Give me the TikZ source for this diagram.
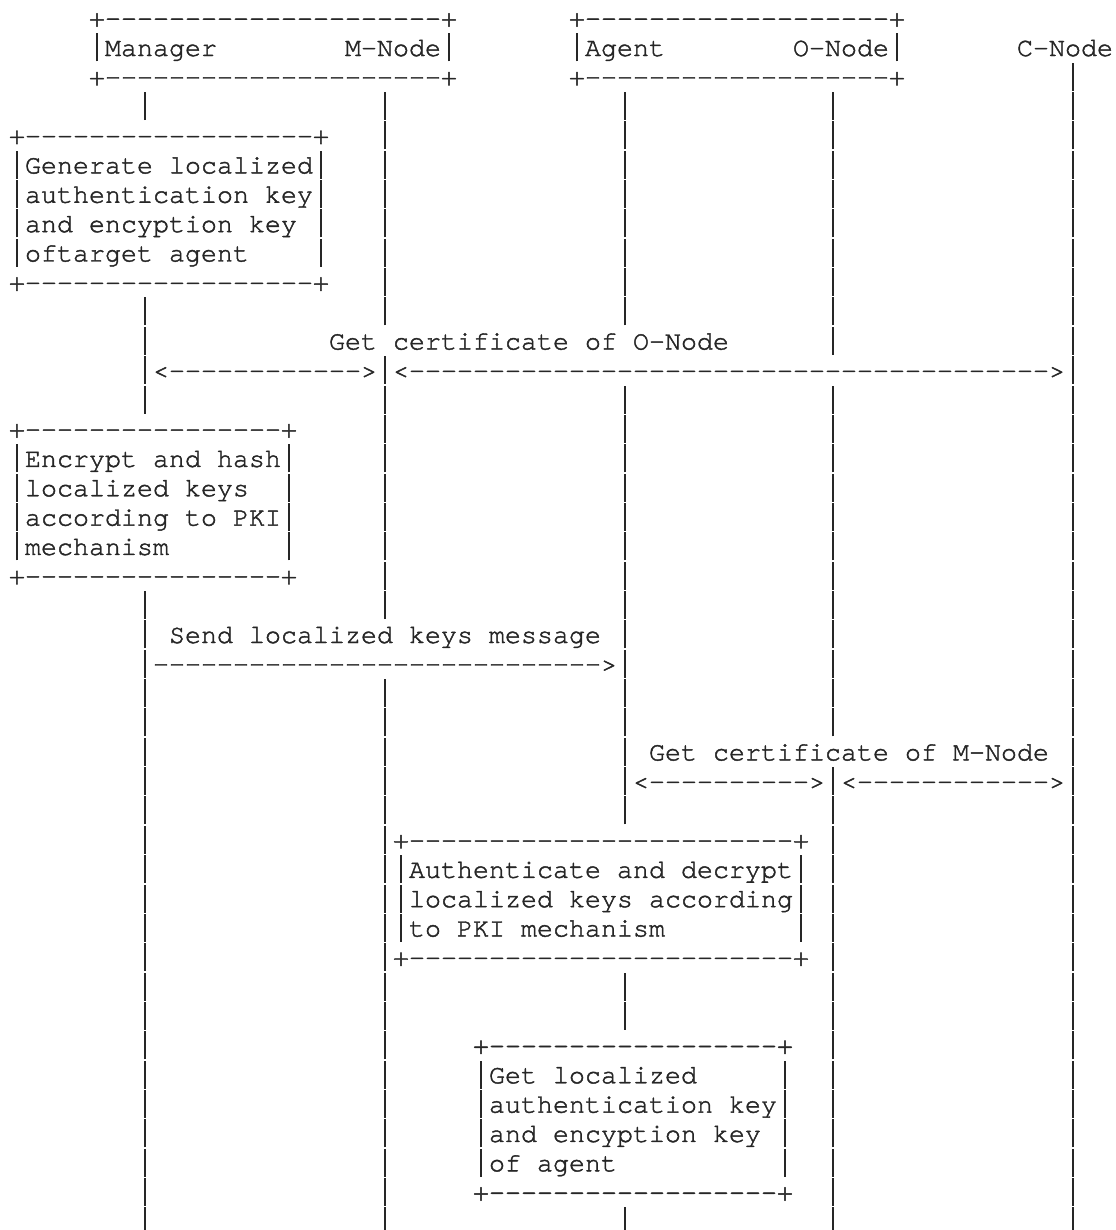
\documentclass[tikz,border=0pt]{standalone}
\usepackage{fontspec}
\setmonofont{TeX Gyre Cursor}[Ligatures={NoCommon}, FakeBold=1.6]
\definecolor{ink}{HTML}{262626}
% a vertical stroke one character cell wide, tall enough to join the rows above and below
\newcommand\vb{\makebox[12pt]{\rule[-4pt]{1.25pt}{21pt}}}
\tikzset{
  ascii/.style={anchor=base west, inner sep=0pt, outer sep=0pt,
    font=\ttfamily\fontsize{20pt}{22pt}\selectfont, text=ink},
}
% character grid: 12pt per column, 22.0125pt per row
\newcommand\cell[3]{\node[ascii] (a#2-#1) at ({#1*12pt},{-#2*22.0125pt}) {#3};}
\newcommand\bars[2]{\foreach \c in {#2} {\cell{\c}{#1}{\vb}}}
\begin{document}
\begin{tikzpicture}
\useasboundingbox (-6.75pt,20pt) rectangle (829.5pt,-902.5pt);

% participants
\cell{5}{0}{+---------------------+}
\cell{35}{0}{+-------------------+}
\cell{5}{1}{\vb Manager}
\cell{21}{1}{M-Node\vb}
\cell{35}{1}{\vb Agent}
\cell{49}{1}{O-Node\vb}
\cell{63}{1}{C-Node}
\cell{5}{2}{+---------------------+}
\cell{35}{2}{+-------------------+}
\bars{2}{66}
\bars{3}{8,23,38,51,66}

% key generation at the manager
\cell{0}{4}{+------------------+}
\cell{0}{5}{\vb Generate localized}
\cell{0}{6}{\vb authentication key}
\cell{0}{7}{\vb and encyption key}
\cell{0}{8}{\vb oftarget agent}
\foreach \r in {5,...,8} {\cell{19}{\r}{\vb}}
\cell{0}{9}{+------------------+}
\foreach \r in {4,...,9} {\bars{\r}{23,38,51,66}}
\bars{10}{8,23,38,51,66}

% certificate of O-Node
\bars{11}{8}
\cell{20}{11}{Get certificate of O-Node}
\bars{11}{51,66}
\bars{12}{8}
\cell{9}{12}{<------------>}
\bars{12}{23}
\cell{24}{12}{<---------------------------------------->}
\bars{12}{66}
\bars{13}{8,23,38,51,66}

% encryption at the manager
\cell{0}{14}{+----------------+}
\cell{0}{15}{\vb Encrypt and hash}
\cell{0}{16}{\vb localized keys}
\cell{0}{17}{\vb according to PKI}
\cell{0}{18}{\vb mechanism}
\foreach \r in {15,...,18} {\cell{17}{\r}{\vb}}
\cell{0}{19}{+----------------+}
\foreach \r in {14,...,19} {\bars{\r}{23,38,51,66}}
\bars{20}{8,23,38,51,66}

% key message to the agent
\bars{21}{8}
\cell{10}{21}{Send localized keys message}
\bars{21}{38,51,66}
\bars{22}{8}
\cell{9}{22}{---------------------------->}
\bars{22}{38,51,66}
\bars{23}{8,23,38,51,66}
\bars{24}{8,23,38,51,66}

% certificate of M-Node
\bars{25}{8,23,38}
\cell{40}{25}{Get certificate of M-Node}
\bars{25}{66}
\bars{26}{8,23,38}
\cell{39}{26}{<---------->}
\bars{26}{51}
\cell{52}{26}{<------------>}
\bars{26}{66}
\bars{27}{8,23,38,51,66}

% decryption at the agent
\cell{24}{28}{+------------------------+}
\cell{24}{29}{\vb Authenticate and decrypt}
\cell{24}{30}{\vb localized keys according}
\cell{24}{31}{\vb to PKI mechanism}
\foreach \r in {29,...,31} {\cell{49}{\r}{\vb}}
\cell{24}{32}{+------------------------+}
\foreach \r in {28,...,32} {\bars{\r}{8,23,51,66}}
\bars{33}{8,23,38,51,66}
\bars{34}{8,23,38,51,66}

% keys recovered by the agent
\cell{29}{35}{+------------------+}
\cell{29}{36}{\vb Get localized}
\cell{29}{37}{\vb authentication key}
\cell{29}{38}{\vb and encyption key}
\cell{29}{39}{\vb of agent}
\foreach \r in {36,...,39} {\cell{48}{\r}{\vb}}
\cell{29}{40}{+------------------+}
\foreach \r in {35,...,40} {\bars{\r}{8,23,51,66}}
\bars{41}{8,23,38,51,66}
\end{tikzpicture}
\end{document}
